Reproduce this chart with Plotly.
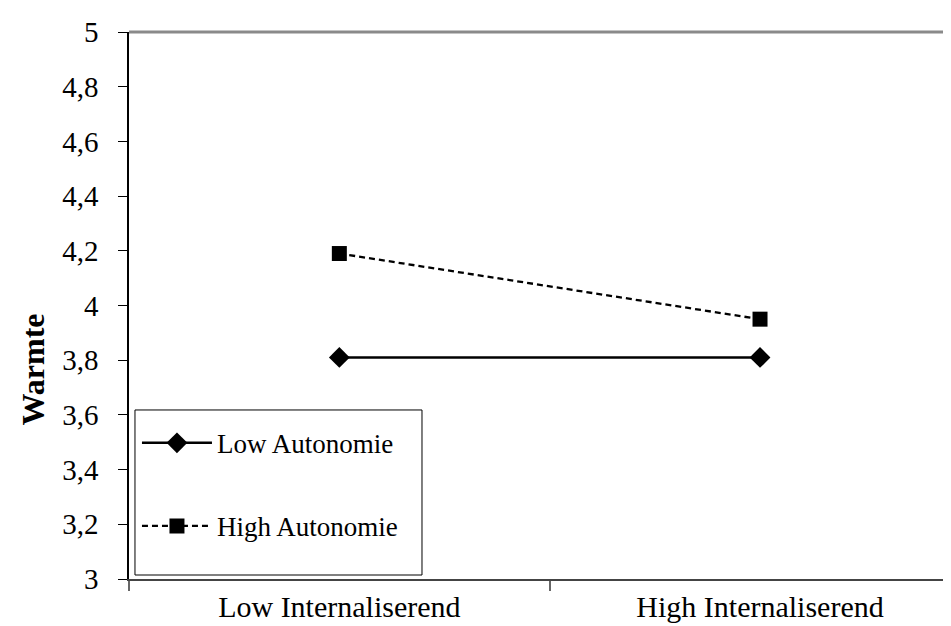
import plotly.graph_objects as go

categories = ["Low Internaliserend", "High Internaliserend"]
low_autonomie = [3.81, 3.81]
high_autonomie = [4.19, 3.95]
y_ticks = [3, 3.2, 3.4, 3.6, 3.8, 4, 4.2, 4.4, 4.6, 4.8, 5]

serif = "Liberation Serif, Times New Roman, serif"

fig = go.Figure()
fig.add_trace(go.Scatter(
    x=categories, y=low_autonomie, name="Low Autonomie", legendgroup="a",
    mode="lines+markers",
    line=dict(color="black", width=2.5),
    marker=dict(symbol="diamond", size=16, color="black"),
))
fig.add_trace(go.Scatter(
    x=categories, y=high_autonomie, name="High Autonomie", legendgroup="b",
    mode="lines+markers",
    line=dict(color="black", width=2.3, dash="6px,4px"),
    marker=dict(symbol="square", size=15, color="black"),
))

# top border of the plot area (grey)
fig.add_shape(type="line", xref="paper", yref="paper", x0=0, x1=1, y0=1, y1=1,
              line=dict(color="#8a8a8a", width=3))
# legend frame
fig.add_shape(type="rect", xref="paper", yref="paper",
              x0=0.0072, x1=0.353, y0=0.0073, y1=0.309,
              line=dict(color="black", width=1), fillcolor="white", layer="below")

# y axis title, placed lower like the original
fig.add_annotation(text="<b>Warmte</b>", xref="paper", yref="paper",
                   x=-0.1145, y=0.383, textangle=-90, showarrow=False,
                   xanchor="center", yanchor="middle",
                   font=dict(size=32, family=serif, color="black"))

fig.update_layout(
    width=951, height=626,
    margin=dict(l=121, r=0, t=24, b=55),
    paper_bgcolor="white", plot_bgcolor="white",
    separators=", ",
    font=dict(family=serif, color="black"),
    showlegend=True,
    legend=dict(
        x=0.0096, y=0.293, xanchor="left", yanchor="top",
        bgcolor="rgba(0,0,0,0)", borderwidth=0,
        font=dict(size=27, family=serif),
        traceorder="grouped", tracegroupgap=45, itemwidth=70,
    ),
    xaxis=dict(
        type="category", range=[-0.5, 1.473],
        showline=True, linecolor="#444444", linewidth=2,
        ticks="outside", tickson="boundaries", ticklen=10, tickcolor="#666666", tickwidth=2,
        tickfont=dict(size=30, family=serif),
        showgrid=False, zeroline=False,
    ),
    yaxis=dict(
        range=[3, 5], tickvals=y_ticks,
        showline=True, linecolor="black", linewidth=1.5,
        ticks="outside", ticklen=9, tickcolor="black", tickwidth=1,
        tickfont=dict(size=29, family=serif),
        ticklabelstandoff=14,
        showgrid=False, zeroline=False,
    ),
)

fig.write_html("out.html")
